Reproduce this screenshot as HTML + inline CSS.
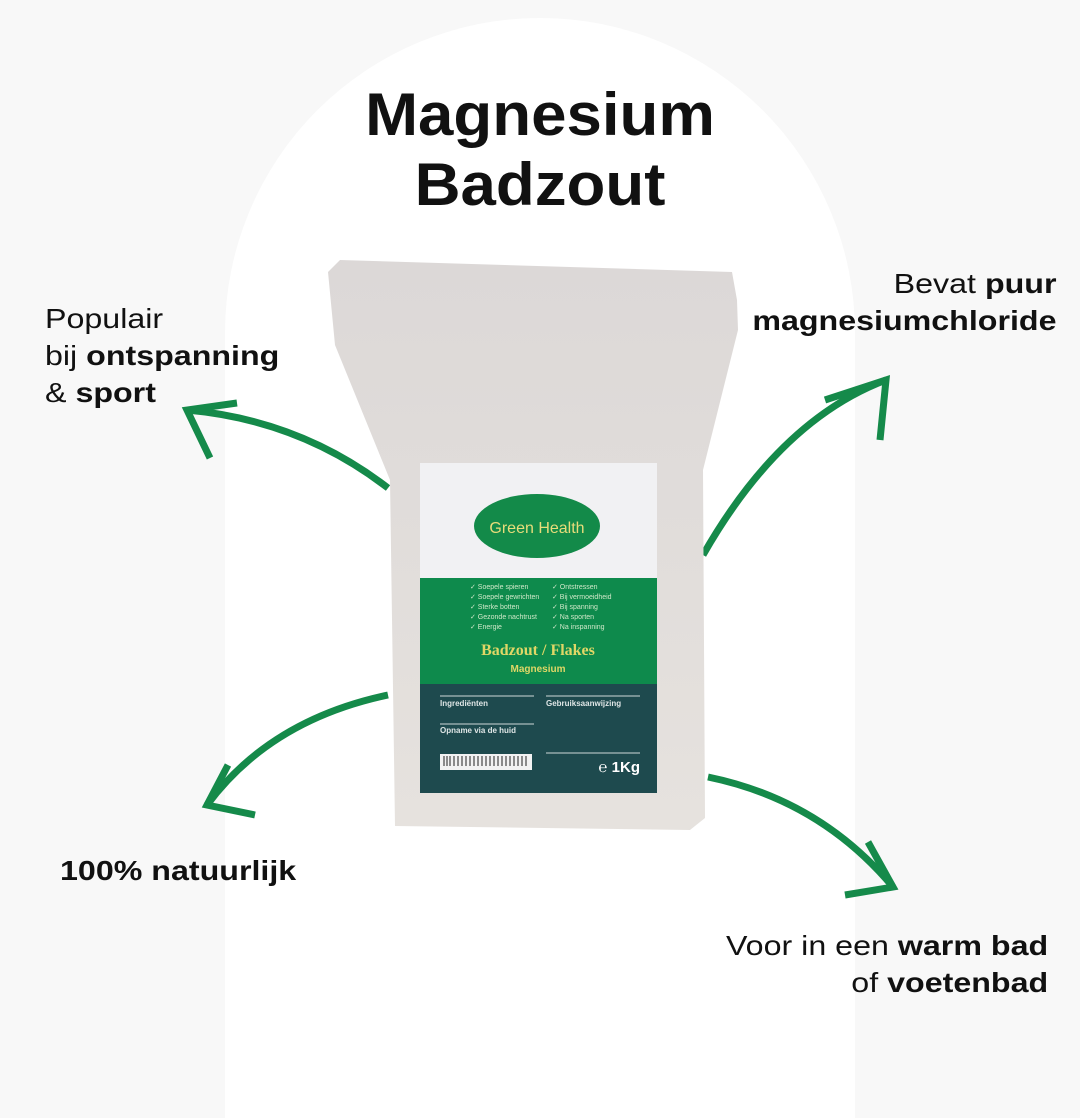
<!DOCTYPE html>
<html><head><meta charset="utf-8"><style>
html,body{margin:0;padding:0}
body{width:1080px;height:1080px;position:relative;overflow:hidden;background:#f8f8f8;font-family:"Liberation Sans",sans-serif;color:#111}
.arch{position:absolute;left:225px;top:18px;width:630px;height:1100px;background:#fff;border-radius:315px 315px 0 0}
.t{position:absolute;font-size:28px;line-height:37px;white-space:nowrap}
.l{transform:scaleX(1.15);transform-origin:left top}
.r{transform:scaleX(1.15);transform-origin:right top;text-align:right}
b{font-weight:700}
h1{position:absolute;left:0;width:1080px;top:80px;margin:0;text-align:center;font-size:60px;line-height:70px;font-weight:700;transform:scaleX(1.06)}
</style></head><body>
<div class="arch"></div>
<h1>Magnesium<br>Badzout</h1>
<svg width="1080" height="1080" style="position:absolute;left:0;top:0">
<defs><linearGradient id="g" x1="0" y1="0" x2="0" y2="1"><stop offset="0" stop-color="#dcd8d7"/><stop offset="1" stop-color="#e6e2de"/></linearGradient></defs>
<g fill="none" stroke="#158a4a" stroke-width="7" stroke-linecap="butt">
<path d="M388,488 Q300,420 187,410"/><path d="M237,403 L187,410 L210,458"/>
<path d="M703,555 Q780,420 886,380"/><path d="M825,400 L886,380 L880,440"/>
<path d="M388,695 Q270,720 207,805"/><path d="M228,765 L207,805 L255,815"/>
<path d="M708,777 Q820,800 893,887"/><path d="M868,842 L893,887 L845,895"/>
</g>
<path d="M328,272 L340,260 L732,272 L737,300 L738,330 L703,470 L705,818 L690,830 L395,826 L390,480 L335,345 Z" fill="url(#g)"/>
<rect x="420" y="463" width="237" height="115" fill="#f1f1f3"/>
<ellipse cx="537" cy="526" rx="63" ry="32" fill="#138a49"/>
<text x="537" y="533" text-anchor="middle" font-size="16" fill="#e8dc7a" font-family="Liberation Sans">Green Health</text>
<rect x="420" y="578" width="237" height="106" fill="#0e8a4c"/>
<g font-size="7" fill="#cfe8c8"><text x="470" y="589">✓ Soepele spieren</text><text x="470" y="599">✓ Soepele gewrichten</text><text x="470" y="609">✓ Sterke botten</text><text x="470" y="619">✓ Gezonde nachtrust</text><text x="470" y="629">✓ Energie</text>
<text x="552" y="589">✓ Ontstressen</text><text x="552" y="599">✓ Bij vermoeidheid</text><text x="552" y="609">✓ Bij spanning</text><text x="552" y="619">✓ Na sporten</text><text x="552" y="629">✓ Na inspanning</text></g>
<text x="538" y="655" text-anchor="middle" font-size="16" font-weight="700" fill="#e0d766" font-family="Liberation Serif">Badzout / Flakes</text>
<text x="538" y="672" text-anchor="middle" font-size="10" font-weight="700" fill="#e0d766">Magnesium</text>
<rect x="420" y="684" width="237" height="109" fill="#1e4a4e"/>
<g fill="#dfe6e6" font-size="8" font-weight="700"><text x="440" y="706">Ingrediënten</text><text x="440" y="733">Opname via de huid</text><text x="546" y="706">Gebruiksaanwijzing</text></g>
<g stroke="#cfd8d8" stroke-width="1"><line x1="440" y1="696" x2="534" y2="696"/><line x1="440" y1="724" x2="534" y2="724"/><line x1="546" y1="696" x2="640" y2="696"/><line x1="546" y1="753" x2="640" y2="753"/></g>
<rect x="440" y="754" width="92" height="16" fill="#f2f2f2"/>
<g stroke="#222" stroke-width="1"><path d="M444,756v10M447,756v10M450,756v10M454,756v10M458,756v10M462,756v10M466,756v10M470,756v10M474,756v10M478,756v10M482,756v10M486,756v10M490,756v10M494,756v10M498,756v10M502,756v10M506,756v10M510,756v10M514,756v10M518,756v10M522,756v10M526,756v10"/></g>
<text x="640" y="772" text-anchor="end" font-size="15" font-weight="700" fill="#fff">℮ 1Kg</text>
</svg>
<div class="t l" style="left:45px;top:300px">Populair<br>bij <b>ontspanning</b><br>&amp; <b>sport</b></div>
<div class="t r" style="right:23px;top:265px">Bevat <b>puur</b><br><b>magnesiumchloride</b></div>
<div class="t l" style="left:60px;top:852px"><b>100% natuurlijk</b></div>
<div class="t r" style="right:32px;top:927px">Voor in een <b>warm bad</b><br>of <b>voetenbad</b></div>
</body></html>
